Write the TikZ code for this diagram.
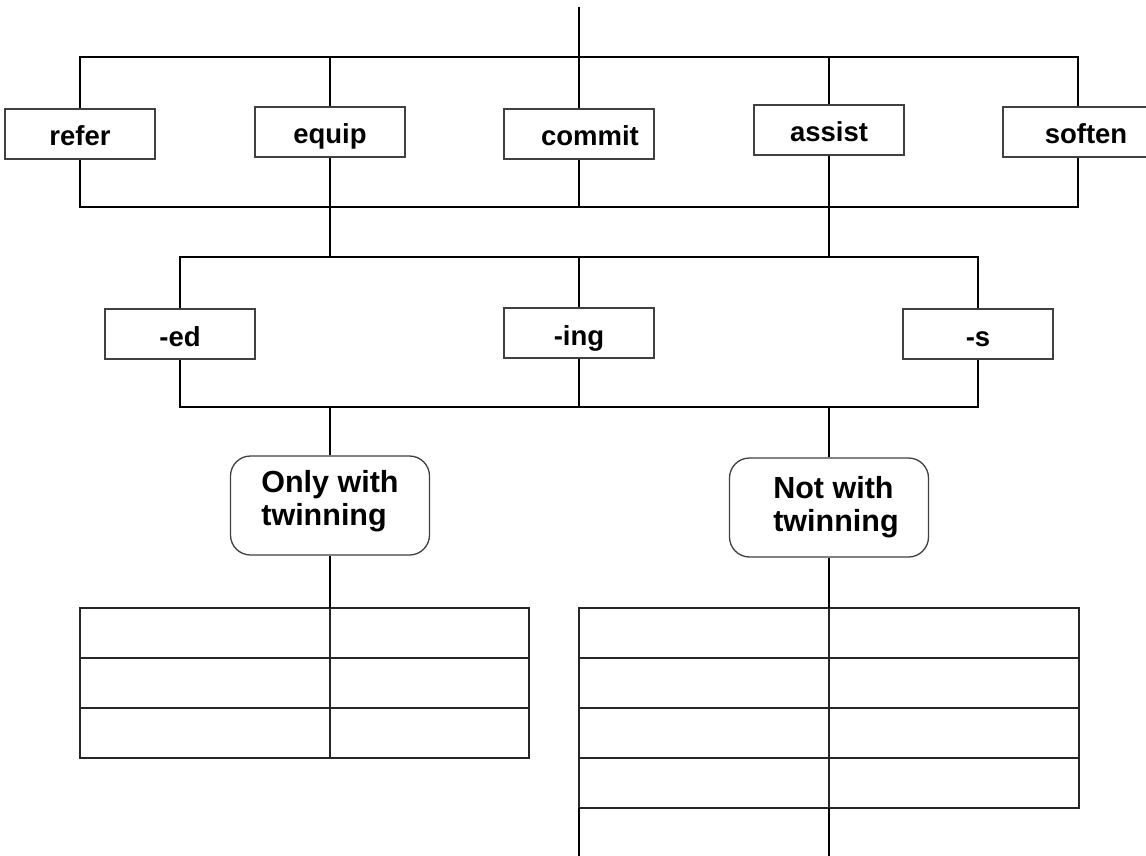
\documentclass[tikz,border=0pt]{standalone}
\usepackage{fontspec}
\setmainfont{Liberation Sans}
\begin{document}
\begin{tikzpicture}[x=1pt,y=-1pt,
  wire/.style={draw=black, line width=1.3pt},
  wordbox/.style={draw=black!75, line width=1.3pt, fill=white,
    minimum width=150pt, minimum height=50pt, inner sep=0pt,
    text height=24pt, text depth=0pt,
    font=\fontsize{27.5}{31}\selectfont\bfseries},
  groupbox/.style={draw=black!75, line width=1.3pt, fill=white,
    rounded corners=20pt, minimum width=199pt, minimum height=99pt,
    inner sep=0pt, align=left,
    font=\fontsize{30.5}{33}\selectfont\bfseries},
  cell/.style={draw=black!85, line width=1.3pt, minimum height=50pt,
    inner sep=0pt, outer sep=0pt, anchor=north west}]
\useasboundingbox (0,0) rectangle (1146,856);

% bus levels
\coordinate (top)  at (579,7);
\coordinate (busA) at (579,57);
\coordinate (busB) at (579,207);
\coordinate (busC) at (579,257);
\coordinate (busD) at (579,407);
\coordinate (floor) at (579,856);

% verb stems
\node[wordbox] (refer)  at (80,134)   {refer};
\node[wordbox] (equip)  at (330,132)  {equip};
\node[wordbox] (commit) at (579,134)  {\hspace*{22pt}commit};
\node[wordbox] (assist) at (829,130)  {assist};
\node[wordbox] (soften) at (1078,132) {\hspace*{16pt}soften};

% suffixes
\node[wordbox] (ed)  at (180,334) {-ed};
\node[wordbox] (ing) at (579,333) {-ing};
\node[wordbox] (s)   at (978,334) {-s};

% groups
\node[groupbox, text depth=15pt] (only) at (330,505.5) {Only with\\twinning};
\node[groupbox, text depth=8pt] (notw) at (829,507.5) {\hspace*{14pt}Not with\\\hspace*{14pt}twinning};

% stems: upper bus
\draw[wire] (top) -- (commit.north);
\draw[wire] (refer.north) |- (soften.north |- busA) -- (soften.north);
\draw[wire] (equip.north) -- (equip.north |- busA);
\draw[wire] (assist.north) -- (assist.north |- busA);

% stems: lower bus
\draw[wire] (refer.south) |- (soften.south |- busB) -- (soften.south);
\draw[wire] (commit.south) -- (commit.south |- busB);
\draw[wire] (equip.south) -- (equip.south |- busC);
\draw[wire] (assist.south) -- (assist.south |- busC);

% suffixes: buses
\draw[wire] (ed.north) |- (s.north |- busC) -- (s.north);
\draw[wire] (ing.north) -- (ing.north |- busC);
\draw[wire] (ed.south) |- (s.south |- busD) -- (s.south);
\draw[wire] (ing.south) -- (ing.south |- busD);

% groups
\draw[wire] (only.north) -- (only.north |- busD);
\draw[wire] (notw.north) -- (notw.north |- busD);

% left table
\foreach \r in {1,2,3} {
  \node[cell, minimum width=250pt] (L\r1) at (80,{608+50*(\r-1)}) {};
  \node[cell, minimum width=199pt] (L\r2) at (330,{608+50*(\r-1)}) {};
}
% right table
\foreach \r in {1,2,3,4} {
  \node[cell, minimum width=250pt] (R\r1) at (579,{608+50*(\r-1)}) {};
  \node[cell, minimum width=250pt] (R\r2) at (829,{608+50*(\r-1)}) {};
}
\draw[wire] (R41.south west) -- (R41.south west |- floor);
\draw[wire] (R41.south east) -- (R41.south east |- floor);

% groups to tables
\draw[wire] (only.south) -- (L11.north east);
\draw[wire] (notw.south) -- (R11.north east);
\end{tikzpicture}
\end{document}
